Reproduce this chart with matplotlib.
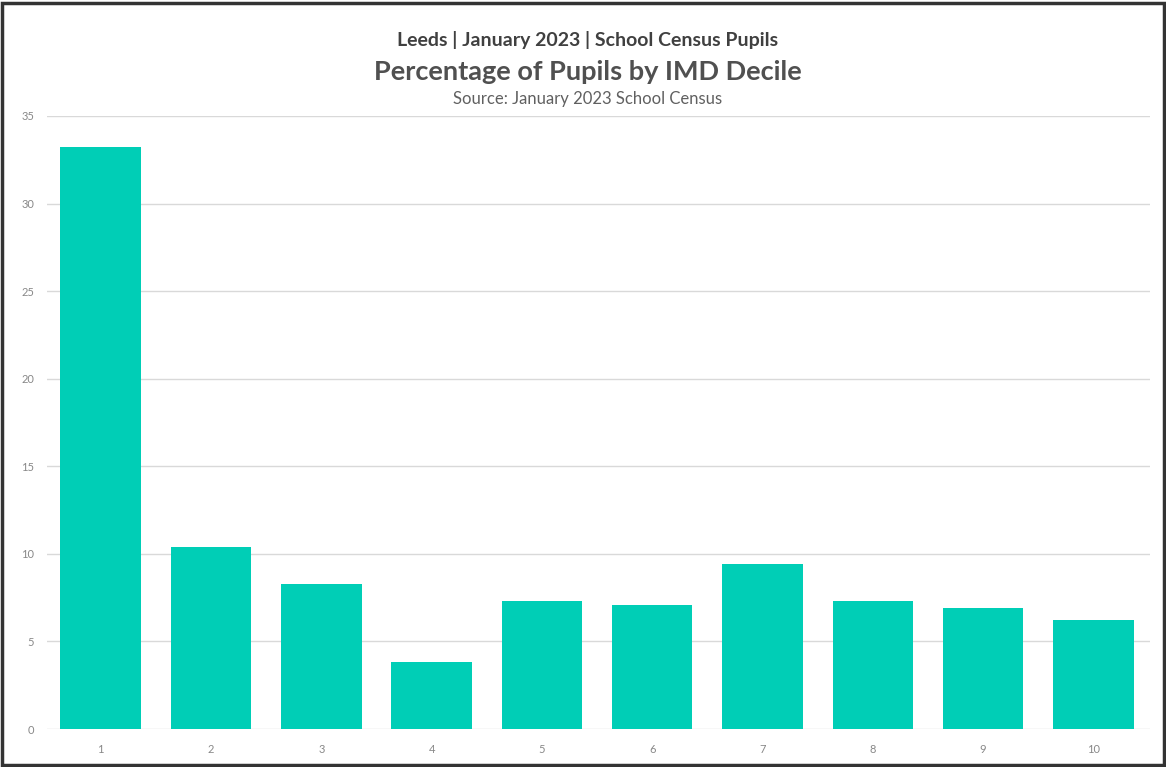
import numpy as np
import matplotlib
matplotlib.use('Agg')
import matplotlib.pyplot as plt
from matplotlib.patches import Rectangle

deciles = ['1', '2', '3', '4', '5', '6', '7', '8', '9', '10']
pct_pupils = [33.2, 10.4, 8.3, 3.8, 7.3, 7.1, 9.4, 7.3, 6.9, 6.2]
y_ticks = [0, 5, 10, 15, 20, 25, 30, 35]

plt.rcParams['font.family'] = ['Lato', 'DejaVu Sans']

fig = plt.figure(figsize=(11.66, 7.67), dpi=100)
ax = fig.add_axes([0.040, 0.0495, 0.946, 0.7993])

x = np.arange(len(deciles))
ax.bar(x, pct_pupils, width=0.73, color='#00CEB6', zorder=3)
ax.set_xlim(-0.49, 9.51)
ax.set_ylim(0, 35)
ax.set_yticks(y_ticks)
ax.set_xticks(x)
ax.set_xticklabels(deciles)
ax.grid(axis='y', color='#D9D9D9', linewidth=1, zorder=0)
for s in ax.spines.values():
    s.set_visible(False)
ax.tick_params(length=0, labelsize=8, colors='#888888', pad=11)
ax.tick_params(axis='y', pad=9)

fig.text(0.504, 0.948, 'Leeds | January 2023 | School Census Pupils',
         ha='center', va='center', fontsize=14, fontweight='bold', color='#404040')
fig.text(0.504, 0.906, 'Percentage of Pupils by IMD Decile',
         ha='center', va='center', fontsize=19.5, fontweight='bold', color='#505050')
fig.text(0.504, 0.871, 'Source: January 2023 School Census',
         ha='center', va='center', fontsize=12, color='#606060')

# dark frame around the picture
fig.patches.append(Rectangle((0.002, 0.002), 0.996, 0.994, transform=fig.transFigure,
                             fill=False, edgecolor='#333333', linewidth=2.5))

fig.savefig('out.png', dpi=100)
